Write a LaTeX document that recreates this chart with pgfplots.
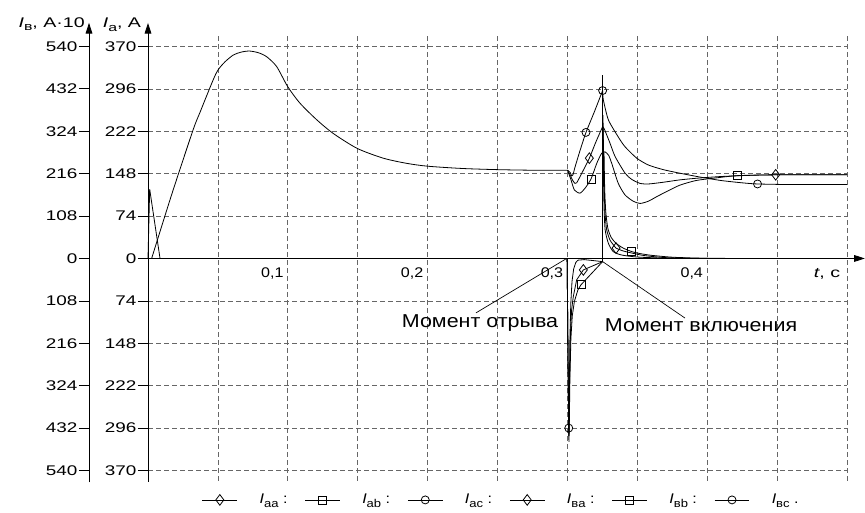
\documentclass[border=0pt]{standalone}
\usepackage{fontspec}
\setmainfont{Liberation Sans}[FakeStretch=1.15]
\newfontfamily\widefont{Liberation Sans}[FakeStretch=1.35]
\newfontfamily\labfont{Liberation Sans}[FakeStretch=1.4]
\usepackage{pgfplots}
\pgfplotsset{compat=1.18}
\usetikzlibrary{arrows.meta}
\newcommand\sub[1]{\raisebox{-0.45ex}{\fontsize{8.5}{9}\selectfont #1}}
\begin{document}
\begin{tikzpicture}[x=1pt,y=1pt]
\useasboundingbox (0,0) rectangle (648.75,384.75);
% ---------------- left axis (I_v, A*10)
\begin{axis}[
  scale only axis, width=10pt, height=333.5pt,
  at={(66.75pt,24.15pt)}, anchor=south west,
  xmin=0, xmax=1, ymin=-566.27, ymax=566.27,
  axis line style={draw=none},
  xtick=\empty,
  ytick={-540,-432,-324,-216,-108,0,108,216,324,432,540},
  yticklabels={540,432,324,216,108,0,108,216,324,432,540},
  ytick pos=left, tick align=outside, major tick length=7.5pt,
  ytick style={black, line width=0.5pt},
  yticklabel style={font=\widefont\fontsize{10.5}{12}\selectfont, inner sep=1pt},
  clip=false,
]
\draw[line width=0.6pt, -{Triangle[length=8pt,width=5pt]}] (axis cs:0,-570) -- (axis cs:0,600);
\node[anchor=east, inner sep=0pt, xshift=-3pt, font=\labfont\fontsize{10.5}{12}\selectfont] at (axis cs:0,596) {\textit{I}\sub{в}, A·10};
\end{axis}
% ---------------- main axis (I_a, A)
\begin{axis}[
  scale only axis, width=524.25pt, height=333.5pt,
  at={(111pt,24.15pt)}, anchor=south west,
  xmin=0, xmax=0.5, ymin=-388, ymax=388,
  axis line style={draw=none},
  xtick={0.05,0.1,0.15,0.2,0.25,0.3,0.35,0.4,0.45,0.5},
  xticklabels={}, xtick style={draw=none},
  ytick={-370,-296,-222,-148,-74,0,74,148,222,296,370},
  yticklabels={370,296,222,148,74,0,74,148,222,296,370},
  ytick pos=left, tick align=outside, major tick length=7.5pt,
  ytick style={black, line width=0.5pt},
  yticklabel style={font=\widefont\fontsize{10.5}{12}\selectfont, inner sep=1pt},
  grid=major,
  major grid style={black!60, line width=0.5pt, dash pattern=on 3.5pt off 2.5pt},
  clip=false,
  legend columns=6,
  legend style={at={(0.506,-0.043)}, anchor=center, draw=none, fill=none,
    font=\fontsize{10.5}{12}\selectfont,
    /tikz/every odd column/.style={column sep=14.5pt},
    /tikz/every even column/.style={column sep=11pt}},
  legend image code/.code={\draw[mark repeat=2,mark phase=2,#1] plot coordinates {(0pt,0pt)(13pt,0pt)(26pt,0pt)};},
  every axis plot/.append style={black, line width=0.6pt},
]
% legend entries
\addlegendimage{black, line width=0.6pt, mark=diamond, mark size=4pt, mark options={fill=white}}
\addlegendentry{\textit{I}\sub{aa} :}
\addlegendimage{black, line width=0.6pt, mark=square, mark size=3pt, mark options={fill=white}}
\addlegendentry{\textit{I}\sub{ab} :}
\addlegendimage{black, line width=0.6pt, mark=o, mark size=3pt, mark options={fill=white}}
\addlegendentry{\textit{I}\sub{ac} :}
\addlegendimage{black, line width=0.6pt, mark=diamond, mark size=4pt, mark options={fill=white}}
\addlegendentry{\textit{I}\sub{вa} :}
\addlegendimage{black, line width=0.6pt, mark=square, mark size=3pt, mark options={fill=white}}
\addlegendentry{\textit{I}\sub{вb} :}
\addlegendimage{black, line width=0.6pt, mark=o, mark size=3pt, mark options={fill=white}}
\addlegendentry{\textit{I}\sub{вc} .}

% spike at start
\addplot[forget plot] coordinates {(0,0) (0.0012,121) (0.0086,0)};
% main curve
\addplot[forget plot, smooth, tension=0.45] coordinates {
(0.0026,0) (0.017,112) (0.0322,224) (0.0372,255) (0.0465,311) (0.0501,329) (0.055,343) (0.061,355)
(0.0665,360) (0.0725,362) (0.079,359) (0.0849,352) (0.092,335) (0.0999,300) (0.1087,271)
(0.1207,242) (0.1326,218) (0.1497,192) (0.1683,175) (0.185,166) (0.2,161) (0.225,157)
(0.25,155) (0.275,154) (0.3001,154)};
% curve a (circle)
\addplot[forget plot, smooth, tension=0.4] coordinates {
(0.3001,154) (0.302,150) (0.3031,144) (0.304,146) (0.3054,159) (0.309,188) (0.3133,220)
(0.3193,256) (0.3252,293)};
\addplot[forget plot, smooth, tension=0.4] coordinates {
(0.3252,293) (0.3257,277) (0.3293,242) (0.3364,212) (0.3412,195) (0.3496,175) (0.358,163)
(0.3686,155) (0.38,149) (0.395,142) (0.41,136) (0.425,132) (0.436,130) (0.46,129) (0.5,129)};
% curve b (diamond)
\addplot[forget plot, smooth, tension=0.4] coordinates {
(0.3001,154) (0.3019,146) (0.3036,137) (0.3054,131) (0.3066,132) (0.3078,137) (0.3114,154)
(0.3157,175) (0.3205,204) (0.3252,230)};
\addplot[forget plot, smooth, tension=0.4] coordinates {
(0.3252,230) (0.3264,226) (0.3305,201) (0.3341,178) (0.3412,149) (0.346,138) (0.352,131)
(0.358,130) (0.3686,133) (0.38,137) (0.3925,140) (0.41,143) (0.43,145) (0.45,146) (0.5,146)};
% curve c (square)
\addplot[forget plot, smooth, tension=0.4] coordinates {
(0.3001,154) (0.3026,137) (0.305,119.5) (0.309,114) (0.3126,122.5) (0.3169,138.7) (0.321,166)
(0.3245,183.6) (0.3269,186) (0.3295,180) (0.3317,166) (0.3364,131) (0.3412,111) (0.347,100)
(0.352,96) (0.358,100) (0.364,108) (0.372,118) (0.3805,128) (0.392,136) (0.4044,140)
(0.4215,144.5) (0.45,146) (0.5,146)};
% vertical line at switching
\addplot[forget plot] coordinates {(0.3252,320) (0.3252,-5.5)};
% decays near zero
\addplot[forget plot, smooth, tension=0.4] coordinates {
(0.3256,228) (0.326,160) (0.3265,110) (0.3269,79) (0.3281,50) (0.3305,32) (0.3341,20)
(0.3348,18) (0.34,13) (0.346,9.5) (0.355,5) (0.37,1.5) (0.39,0.3) (0.41,0)};
\addplot[forget plot, smooth, tension=0.4] coordinates {
(0.3262,186) (0.3267,120) (0.3275,80) (0.329,52) (0.3315,36) (0.335,26) (0.34,18) (0.346,12)
(0.352,8.5) (0.36,5.5) (0.375,2.2) (0.395,0.5) (0.42,0)};
\addplot[forget plot, smooth, tension=0.4] coordinates {
(0.3255,250) (0.3258,150) (0.3262,90) (0.327,50) (0.3293,26.5) (0.3328,12) (0.3388,6)
(0.35,2.5) (0.37,0.5) (0.39,0)};
% negative curves
\addplot[forget plot] coordinates {
(0.2998,0) (0.3009,-296) (0.3011,-320) (0.3014,-230) (0.3018,-140) (0.3024,-80) (0.3033,-40)
(0.3045,-18) (0.306,-7) (0.3075,-3) (0.312,-2) (0.3252,-5.5)};
\addplot[forget plot] coordinates {
(0.2998,0) (0.3009,-300) (0.3012,-310) (0.3016,-200) (0.3022,-130) (0.303,-90) (0.3042,-67)
(0.3066,-37.5) (0.3114,-20) (0.3252,-5.5)};
\addplot[forget plot] coordinates {
(0.2998,0) (0.301,-310) (0.3013,-300) (0.3018,-210) (0.3025,-140) (0.3035,-100) (0.305,-75)
(0.3075,-55) (0.3097,-46) (0.3252,-5.5)};
% markers
\addplot[forget plot, only marks, mark=o, mark size=3pt, mark options={fill=white, line width=0.6pt}] coordinates {
(0.3252,293) (0.3133,220) (0.436,130) (0.30097,-296)};
\addplot[forget plot, only marks, mark=diamond, mark size=4pt, mark options={fill=white, line width=0.6pt}] coordinates {
(0.3157,175) (0.449,146) (0.3348,18) (0.3114,-20)};
\addplot[forget plot, only marks, mark=square, mark size=3pt, mark options={fill=white, line width=0.6pt}] coordinates {
(0.3169,138.7) (0.4215,144.5) (0.346,12) (0.3097,-46)};

% axes lines
\draw[line width=0.6pt, -{Triangle[length=8pt,width=5pt]}] (axis cs:0,-390) -- (axis cs:0,411);
\draw[line width=0.6pt, -{Triangle[length=8pt,width=5pt]}] (axis cs:0,0) -- (axis cs:0.5128,0);
\node[anchor=east, inner sep=0pt, xshift=-5pt, font=\labfont\fontsize{10.5}{12}\selectfont] at (axis cs:0,408) {\textit{I}\sub{a}, A};
% x tick labels
\node[anchor=north east, inner sep=0pt, xshift=-3pt, yshift=-7pt, font=\fontsize{10.5}{12}\selectfont] at (axis cs:0.1,0) {0,1};
\node[anchor=north east, inner sep=0pt, xshift=-3pt, yshift=-7pt, font=\fontsize{10.5}{12}\selectfont] at (axis cs:0.2,0) {0,2};
\node[anchor=north east, inner sep=0pt, xshift=-3pt, yshift=-7pt, font=\fontsize{10.5}{12}\selectfont] at (axis cs:0.3,0) {0,3};
\node[anchor=north east, inner sep=0pt, xshift=-3pt, yshift=-7pt, font=\fontsize{10.5}{12}\selectfont] at (axis cs:0.4,0) {0,4};
\node[anchor=north east, inner sep=0pt, xshift=-5pt, yshift=-7pt, font=\labfont\fontsize{10.5}{12}\selectfont] at (axis cs:0.5,0) {\textit{t}, c};
% annotations
\draw[line width=0.5pt] (axis cs:0.2995,0) -- (axis cs:0.2346,-95);
\node[font=\fontsize{14}{16}\selectfont, inner sep=0pt] at (axis cs:0.2375,-112) {Момент отрыва};
\draw[line width=0.5pt] (axis cs:0.3252,-5.5) -- (axis cs:0.3841,-104);
\node[font=\fontsize{14}{16}\selectfont, inner sep=0pt] at (axis cs:0.3956,-116) {Момент включения};
\end{axis}
\end{tikzpicture}
\end{document}
